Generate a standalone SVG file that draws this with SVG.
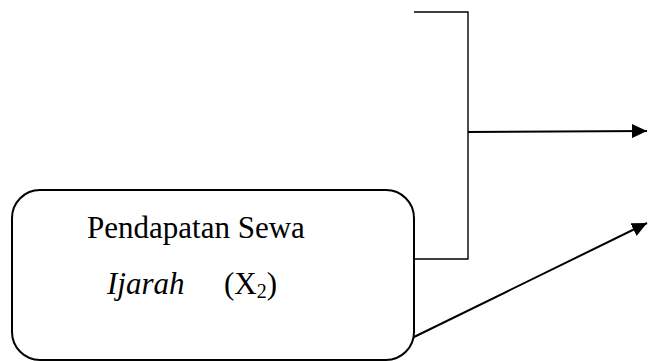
<svg xmlns="http://www.w3.org/2000/svg" width="648" height="361" viewBox="0 0 648 361">
  <style>
    .box { fill: #fff; stroke: #000; stroke-width: 2; }
    .bracket { fill: none; stroke: #000; stroke-width: 1.4; }
    .arrow { fill: none; stroke: #000; stroke-width: 2; }
    .label { font-family: "Liberation Serif", "Times New Roman", serif; font-size: 31px; fill: #000; }
  </style>
  <defs>
    <marker id="head" viewBox="0 0 10 10" refX="10" refY="5" markerWidth="15" markerHeight="14" markerUnits="userSpaceOnUse" orient="auto" preserveAspectRatio="none">
      <path d="M0,0 L10,5 L0,10 z" fill="#000"/>
    </marker>
  </defs>
  <rect width="648" height="361" fill="#fff"/>

  <g id="connectors">
    <path class="bracket" d="M414,12 H468 V259 H414"/>
    <line class="arrow" x1="468" y1="132" x2="647" y2="131" marker-end="url(#head)"/>
    <line class="arrow" x1="414" y1="337" x2="647" y2="223" marker-end="url(#head)"/>
  </g>

  <g id="node-x2">
    <rect class="box" x="12" y="190" width="402" height="170" rx="28" ry="28"/>
    <text class="label" x="87" y="238">Pendapatan Sewa</text>
    <text class="label" x="107" y="294"><tspan font-style="italic">Ijarah</tspan><tspan x="224">(X</tspan><tspan font-size="20" dy="4">2</tspan><tspan dy="-4">)</tspan></text>
  </g>
</svg>
